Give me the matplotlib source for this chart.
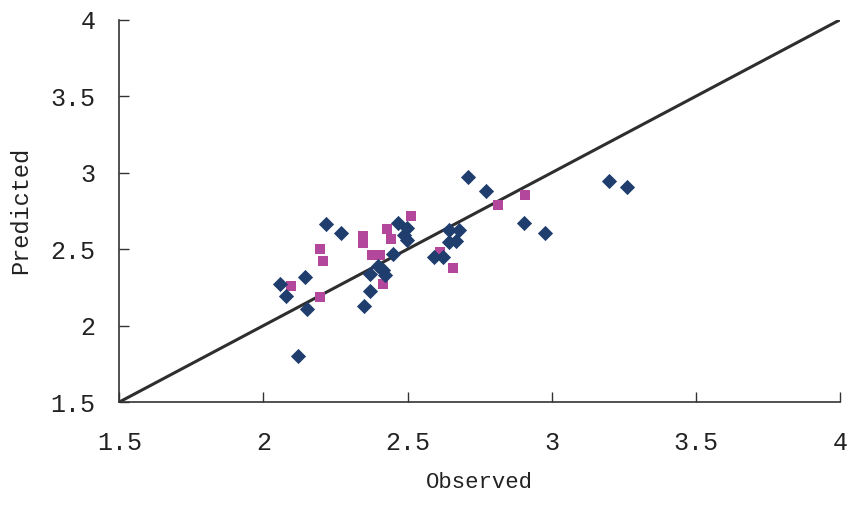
import matplotlib
matplotlib.use('Agg')
import matplotlib.pyplot as plt

plt.rcParams['font.family'] = ['Liberation Mono', 'DejaVu Sans Mono']

# Series 1 (navy diamonds)
obs_a = [2.711, 2.773, 3.200, 3.260, 2.904, 2.977, 2.217, 2.269, 2.145, 2.058,
         2.078, 2.151, 2.120, 2.370, 2.350, 2.368, 2.399, 2.416, 2.422, 2.449,
         2.468, 2.498, 2.486, 2.498, 2.642, 2.680, 2.645, 2.668, 2.590, 2.622]
pred_a = [2.974, 2.883, 2.946, 2.909, 2.673, 2.608, 2.665, 2.604, 2.316, 2.270,
          2.194, 2.107, 1.803, 2.226, 2.128, 2.338, 2.390, 2.364, 2.331, 2.467,
          2.670, 2.637, 2.593, 2.560, 2.626, 2.626, 2.549, 2.556, 2.451, 2.451]

# Series 2 (magenta squares)
obs_b = [2.908, 2.815, 2.511, 2.428, 2.442, 2.345, 2.345, 2.195, 2.206, 2.376,
         2.405, 2.416, 2.096, 2.195, 2.611, 2.657]
pred_b = [2.855, 2.789, 2.719, 2.630, 2.565, 2.586, 2.539, 2.499, 2.423, 2.462,
          2.462, 2.272, 2.259, 2.189, 2.484, 2.375]

ticks = [1.5, 2, 2.5, 3, 3.5, 4]
tick_labels = ['1.5', '2', '2.5', '3', '3.5', '4']

fig = plt.figure(figsize=(8.52, 5.07), dpi=100)
ax = fig.add_axes([0.140, 0.207, 0.846, 0.754])

# 1:1 line
ax.plot([1.5, 4], [1.5, 4], color='#2e2e2e', lw=2.2, zorder=1)

ax.scatter(obs_a, pred_a, marker='D', s=60, color='#1f3d6d', zorder=3, linewidths=0)
ax.scatter(obs_b, pred_b, marker='s', s=58, color='#b3479c', zorder=2, linewidths=0)

ax.set_xlim(1.5, 4)
ax.set_ylim(1.5, 4)
ax.set_xticks(ticks)
ax.set_xticklabels(tick_labels)
ax.set_yticks(ticks)
ax.set_yticklabels(tick_labels)

for side in ['top', 'right']:
    ax.spines[side].set_visible(False)
for side in ['left', 'bottom']:
    ax.spines[side].set_color('#333333')
    ax.spines[side].set_linewidth(1.2)

ax.tick_params(direction='in', length=7, width=1, colors='#333333',
               labelsize=18, labelcolor='#222222')
ax.tick_params(axis='x', pad=21)
ax.tick_params(axis='y', pad=17)

ax.set_xlabel('Observed', fontsize=16, color='#222222', labelpad=12)
ax.set_ylabel('Predicted', fontsize=17, color='#222222', labelpad=13)

fig.savefig('out.png', dpi=100, facecolor='white')
